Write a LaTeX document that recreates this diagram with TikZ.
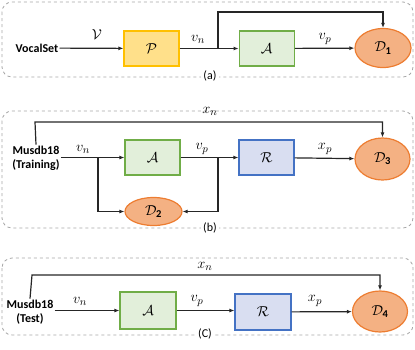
\documentclass[tikz,border=0pt]{standalone}
\usepackage{amsmath}
\usepackage{fontspec}
\setmainfont{Carlito}
\usepackage{tikz}
\usetikzlibrary{arrows.meta,positioning,calc,shapes.geometric}

\definecolor{boxyellow}{HTML}{FFE08A}
\definecolor{edgeyellow}{HTML}{FFC000}
\definecolor{boxgreen}{HTML}{E2EFDA}
\definecolor{edgegreen}{HTML}{70AD47}
\definecolor{boxblue}{HTML}{D9DEF1}
\definecolor{edgeblue}{HTML}{4472C4}
\definecolor{discfill}{HTML}{F4B183}
\definecolor{discedge}{HTML}{ED7D31}
\definecolor{framegray}{HTML}{A6A6A6}

\begin{document}
\begin{tikzpicture}[
  x=1pt, y=-1pt,
  font=\fontsize{12}{14}\selectfont,
  >={Latex[length=5pt,width=4pt]},
  block/.style={
    rectangle,
    draw,
    line width=1.2pt,
    minimum width=55pt,
    minimum height=35pt,
    inner sep=0pt,
    font=\fontsize{15}{17}\selectfont
  },
  prepbox/.style={block, draw=edgeyellow, fill=boxyellow},
  alignbox/.style={block, draw=edgegreen, fill=boxgreen},
  reconbox/.style={block, draw=edgeblue, fill=boxblue},
  disc/.style={
    ellipse,
    draw=discedge,
    fill=discfill,
    line width=1.2pt,
    minimum width=56pt,
    minimum height=39pt,
    inner sep=0pt,
    font=\fontsize{15}{17}\selectfont
  },
  source/.style={font=\fontsize{12}{14}\selectfont\bfseries, align=center, inner sep=1pt},
  panel/.style={draw=framegray, dashed, line width=0.8pt, rounded corners=10pt},
  tag/.style={fill=white, inner sep=2pt, font=\fontsize{12}{14}\selectfont},
  sig/.style={font=\fontsize{15}{17}\selectfont, inner sep=0pt},
  flow/.style={->, line width=1.2pt, draw=black!85},
  wire/.style={line width=1.2pt, draw=black!85}
]
\useasboundingbox (0,0) rectangle (415,349);

% (a)
\draw[panel] (2,2) rectangle (413,77);
\node[source] (vocal) at (37,48) {VocalSet};
\node[prepbox] (pre) at (151.5,48.5) {$\mathcal{P}$};
\node[alignbox, right=59pt of pre] (alA) {$\mathcal{A}$};
\node[disc] (dA) at (383,48) {$\mathcal{D}_{\mathbf{1}}$};
\coordinate (splitA) at (218,48.5);
\draw[flow] (vocal) -- (pre);
\draw[wire] (pre) -- (splitA);
\draw[flow] (splitA) -- (alA);
\draw[flow] (alA) -- (dA);
\draw[flow] (splitA) -- (218,12) -| (dA.north);
\node[sig] (vA) at (97,35) {$\mathcal{V}$};
\node[sig] (vnA) at (198,39) {$v_n$};
\node[sig] (vpA) at (325,39) {$v_p$};
\node[tag] (tagA) at (210,76) {(a)};

% (b)
\draw[panel] (2,111) rectangle (413,228);
\node[source] (musT) at (36,158) {Musdb18\\(Training)};
\node[alignbox] (alB) at (152.5,157.5) {$\mathcal{A}$};
\node[reconbox] (reB) at (266.5,157.5) {$\mathcal{R}$};
\node[disc, minimum width=55pt, minimum height=42pt] (dC) at (382.5,159) {$\mathcal{D}_{\mathbf{3}}$};
\node[disc, minimum width=57pt, minimum height=28pt] (dB) at (153.5,211.5) {$\mathcal{D}_{\mathbf{2}}$};
\coordinate (splitB) at (98,157.5);
\coordinate (splitC) at (218,157.5);
\draw[wire] (musT.east |- splitB) -- (splitB);
\draw[flow] (splitB) -- (alB);
\draw[wire] (alB) -- (splitC);
\draw[flow] (splitC) -- (reB);
\draw[flow] (reB) -- (dC);
\draw[flow] (splitB) |- (dB.west);
\draw[flow] (splitC) |- (dB.east);
\draw[flow] (musT.north) -- (35,122) -| (dC.north);
\node[sig] (vnB) at (83,149) {$v_n$};
\node[sig] (vpB) at (202,149) {$v_p$};
\node[sig] (xpB) at (325,149) {$x_p$};
\node[sig] (xnB) at (210,111) {$x_n$};
\node[tag] (tagB) at (210,228) {(b)};

% (c)
\draw[panel] (2,258) rectangle (413,335);
\node[source] (musE) at (30,312) {Musdb18\\(Test)};
\node[alignbox, minimum width=56pt, minimum height=37pt] (alC) at (148,310.5) {$\mathcal{A}$};
\node[reconbox, minimum width=56pt, minimum height=36pt] (reC) at (263,312) {$\mathcal{R}$};
\node[disc, minimum width=55pt, minimum height=41pt] (dD) at (380,311.5) {$\mathcal{D}_{\mathbf{4}}$};
\draw[flow] (musE.east |- alC) -- (alC);
\draw[flow] (alC) -- (reC.west |- alC);
\draw[flow] (reC) -- (dD);
\draw[flow] (musE.north) -- (32,275) -| (dD.north);
\node[sig] (vnC) at (80,301) {$v_n$};
\node[sig] (vpC) at (197,301) {$v_p$};
\node[sig] (xpC) at (315,301) {$x_p$};
\node[sig] (xnC) at (205,266) {$x_n$};
\node[tag] (tagC) at (205,334) {(C)};

\end{tikzpicture}
\end{document}
